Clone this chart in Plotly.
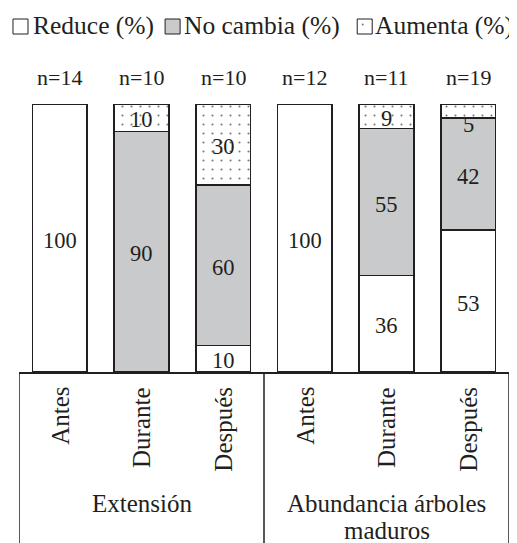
import plotly.graph_objects as go

# ---------------- data ----------------
categories = ["Antes", "Durante", "Después", "Antes", "Durante", "Después"]
group_labels = ["Extensión", "Abundancia árboles", "maduros"]
group_centers = [1, 4, 4]
reduce_pct = [100, 0, 10, 100, 36, 53]
no_cambia_pct = [0, 90, 60, 0, 55, 42]
aumenta_pct = [0, 10, 30, 0, 9, 5]
n_labels = ["n=14", "n=10", "n=10", "n=12", "n=11", "n=19"]
series_names = ["Reduce (%)", "No cambia (%)", "Aumenta (%)"]

# ---------------- style / layout ----------------
FONT = "Liberation Serif, Times New Roman, serif"
INK = "#231f20"
GRAY = "#c9cacc"
DOT = "#777777"
OFF = 8                      # page body margin of the browser
W, H = 517 - OFF, 543 - OFF  # figure size
PLOT_L, PLOT_R = 19, 508.7   # plot area in window pixels
PLOT_T, PLOT_B = 102, 372
L = PLOT_L - OFF
T = PLOT_T - OFF
R = W - (PLOT_R - OFF)
B = H - (PLOT_B - OFF)
PW, PH = W - L - R, H - T - B
YMAX = 100 * PH / 267.5

def px_x(px):
    return (px - PLOT_L) / (PLOT_R - PLOT_L)

def px_y(py):
    return (PLOT_B - py) / (PLOT_B - PLOT_T)

xs = list(range(len(categories)))

fig = go.Figure()
line = dict(color=INK, width=1.5)
fig.add_trace(go.Bar(x=xs, y=reduce_pct, name=series_names[0], width=0.67,
                     marker=dict(color="white", line=line)))
fig.add_trace(go.Bar(x=xs, y=no_cambia_pct, name=series_names[1], width=0.67,
                     marker=dict(color=GRAY, line=line)))
fig.add_trace(go.Bar(x=xs, y=aumenta_pct, name=series_names[2], width=0.67,
                     marker=dict(color="white", line=line,
                                 pattern=dict(shape=".", bgcolor="white", fgcolor=DOT,
                                              fgopacity=1, size=9, solidity=0.045,
                                              fillmode="replace"))))

annotations = []
# segment value labels
for i in xs:
    base = 0
    for vals in (reduce_pct, no_cambia_pct, aumenta_pct):
        v = vals[i]
        if v > 0:
            if v < 7:
                annotations.append(dict(x=i, y=base, text=str(v), showarrow=False,
                                        yanchor="middle", yshift=-7,
                                        font=dict(family=FONT, size=22.5, color=INK)))
            else:
                annotations.append(dict(x=i, y=base + v / 2, text=str(v), showarrow=False,
                                        yanchor="middle", yshift=-2,
                                        font=dict(family=FONT, size=22.5, color=INK)))
        base += v

# n labels
for i in xs:
    annotations.append(dict(x=i, y=100, text=n_labels[i], showarrow=False,
                            yanchor="middle", yshift=27,
                            font=dict(family=FONT, size=22, color=INK)))

# category labels (rotated)
for i in xs:
    annotations.append(dict(x=i, y=0, text=categories[i], showarrow=False, textangle=-90,
                            yanchor="top", xanchor="center", yshift=-13,
                            font=dict(family=FONT, size=25, color=INK)))

# group labels
shifts = [-131.5, -131.5, -158]
for gx, gl, s in zip(group_centers, group_labels, shifts):
    annotations.append(dict(x=gx, y=0, text=gl, showarrow=False, yanchor="middle",
                            yshift=s, font=dict(family=FONT, size=25, color=INK)))

# manual legend (window pixel positions)
legend_boxes = [(13, 28), (165, 180), (357, 372)]
legend_fill = ["white", GRAY, "white"]
legend_text_x = [30.5, 181.5, 372.5]
shapes = []
for (x0, x1), fc, tx, nm in zip(legend_boxes, legend_fill, legend_text_x, series_names):
    shapes.append(dict(type="rect", xref="paper", yref="paper",
                       x0=px_x(x0), x1=px_x(x1), y0=px_y(34), y1=px_y(19),
                       fillcolor=fc, line=dict(color=INK, width=1)))
    annotations.append(dict(xref="paper", yref="paper", x=px_x(tx), y=px_y(25.5),
                            text=nm, showarrow=False, xanchor="left", yanchor="middle",
                            font=dict(family=FONT, size=25.5, color=INK)))
cx = (legend_boxes[2][0] + legend_boxes[2][1]) / 2
shapes.append(dict(type="circle", xref="paper", yref="paper",
                   x0=px_x(cx - 3), x1=px_x(cx - 1), y0=px_y(25.5), y1=px_y(23.5),
                   fillcolor=DOT, line=dict(width=0)))

# table lines below the axis
for xv in (-0.5, 2.5, 5.5):
    shapes.append(dict(type="line", xref="x", yref="paper", x0=xv, x1=xv,
                       y0=0, y1=-0.75, line=dict(color=INK, width=1.5)))

fig.update_layout(
    width=W, height=H,
    margin=dict(l=L, r=R, t=T, b=B, pad=0),
    barmode="stack",
    showlegend=False,
    plot_bgcolor="white", paper_bgcolor="white",
    font=dict(family=FONT, color=INK),
    xaxis=dict(range=[-0.5, 5.5], showticklabels=False, ticks="", showgrid=False,
               zeroline=False, showline=True, linecolor=INK, linewidth=1.5),
    yaxis=dict(range=[0, YMAX], visible=False, showgrid=False, zeroline=False),
    annotations=annotations,
    shapes=shapes,
)

fig.write_html("out.html")
